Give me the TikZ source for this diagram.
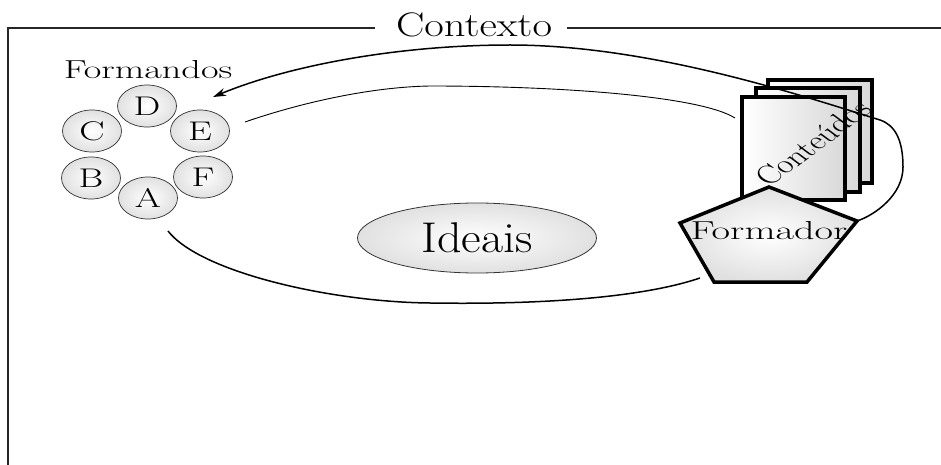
\documentclass[tikz,border=0pt]{standalone}
\usepackage{graphicx}
\usetikzlibrary{arrows.meta,shapes.geometric}
\begin{document}
\begin{tikzpicture}[x=1pt,y=-1pt,
  frame/.style={line width=1.2pt, draw=black!85},
  person/.style={ellipse, draw=black!80, line width=0.7pt, inner color=white, outer color=gray!24,
    minimum width=59pt, minimum height=42pt, inner sep=0pt, font=\fontsize{27}{29}\selectfont},
  pagebox/.style={draw=black, line width=4.5pt, line join=miter, left color=white, right color=gray!30},
  pent/.style={draw=black, line width=3.5pt, line join=miter, inner color=white, outer color=gray!24},
  thick conn/.style={line width=1.5pt, draw=black},
  thin conn/.style={line width=0.9pt, draw=black}
]
\useasboundingbox (0,0) rectangle (941,465);

% frame
\node[anchor=base] (contexto) at (474,37) {\fontsize{34}{36}\selectfont\scalebox{1.25}[1]{Contexto}};
\draw[frame] (8,465) -- (8,28) -- (375,28);
\draw[frame] (567,28) -- (941,28);

% Formandos
\node[anchor=base] (formandos) at (148,79) {\fontsize{26}{28}\selectfont\scalebox{1.47}[1]{Formandos}};
\node[person] (D) at (147,106) {\scalebox{1.4}[1]{D}};
\node[person] (C) at (92,131) {\scalebox{1.4}[1]{C}};
\node[person] (E) at (200,131) {\scalebox{1.4}[1]{E}};
\node[person] (B) at (91,178) {\scalebox{1.4}[1]{B}};
\node[person] (F) at (203,177) {\scalebox{1.4}[1]{F}};
\node[person] (A) at (148,198) {\scalebox{1.4}[1]{A}};

% Ideais
\node[ellipse, draw=black!80, line width=0.8pt, inner color=white, outer color=gray!24,
  minimum width=239pt, minimum height=70pt, inner sep=0pt] (ideais) at (477,238)
  {\fontsize{43}{45}\selectfont\scalebox{1.12}[1]{Ideais}};

% Conteudos pages
\path[pagebox] (768,80) rectangle (872,183);
\path[pagebox] (756,88) rectangle (860,192);
\path[pagebox] (742,97) rectangle (845,200);
\begin{scope}[shift={(813,143)}]
  \node[xscale=1.35, rotate=45, inner sep=0pt] (conteudos) at (0,0) {\fontsize{26}{28}\selectfont Conteúdos};
\end{scope}

% Formador pentagon
\coordinate (p1) at (769,187);
\coordinate (p2) at (857,221);
\coordinate (p3) at (807,282);
\coordinate (p4) at (714,282);
\coordinate (p5) at (680,223);
\path[pent] (p1) -- (p2) -- (p3) -- (p4) -- (p5) -- cycle;
\node[anchor=base] (formador) at (769,239) {\fontsize{26}{28}\selectfont\scalebox{1.55}[1]{Formador}};

% connectors
\coordinate (arrowend) at (213,97);
\draw[thick conn, -{Stealth[length=13pt,width=8pt]}] (p2)
  .. controls (875,215) and (903,195) .. (903,167)
  .. controls (903,140) and (895,125) .. (880,120)
  .. controls (800,95) and (650,45) .. (510,45)
  .. controls (400,45) and (290,65) .. (arrowend);

\coordinate (t1) at (245,122);
\coordinate (t2) at (735,118);
\draw[thin conn] (t1) .. controls (300,103) and (370,87) .. (430,86)
  .. controls (560,86) and (700,96) .. (t2);

\coordinate (l1) at (168,231);
\coordinate (l2) at (700,278);
\draw[thick conn] (l1) .. controls (200,272) and (330,302) .. (430,303)
  .. controls (560,305) and (650,295) .. (l2);
\end{tikzpicture}
\end{document}
